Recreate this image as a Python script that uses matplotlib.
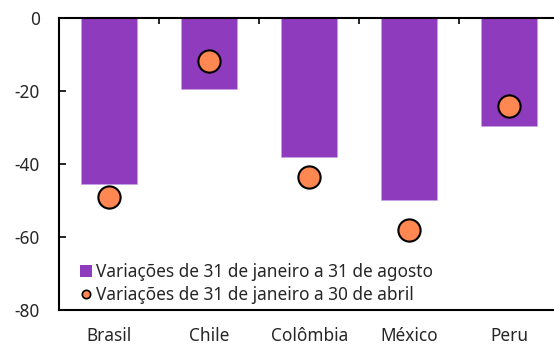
import matplotlib
matplotlib.use("Agg")
import matplotlib.pyplot as plt
from matplotlib.lines import Line2D
from matplotlib.ticker import FixedLocator

plt.rcParams['font.family'] = ['Noto Sans', 'DejaVu Sans']

countries = ["Brasil", "Chile", "Colômbia", "México", "Peru"]
jan_to_aug = [-45.4, -19.4, -38.2, -49.8, -29.7]
jan_to_apr = [-49.2, -11.8, -43.7, -58.0, -24.3]
y_ticks = [0, -20, -40, -60, -80]

bar_label = "Variações de 31 de janeiro a 31 de agosto"
dot_label = "Variações de 31 de janeiro a 30 de abril"

purple = "#8E3BBE"
orange = "#FF8752"
text_color = "#262626"
fs = 12.4

W, H = 554, 347
fig = plt.figure(figsize=(W / 100, H / 100), dpi=100)
left, right, top, bottom = 59.3, 559, 17.7, 310
ax = fig.add_axes([left / W, 1 - bottom / H, (right - left) / W, (bottom - top) / H])

x = list(range(len(countries)))
ax.bar(x, jan_to_aug, width=0.56, color=purple, edgecolor="#C7A3E0", linewidth=0.5, zorder=2)
ax.plot(x, jan_to_apr, linestyle="none", marker="o", markersize=16,
        markerfacecolor=orange, markeredgecolor="black", markeredgewidth=1.5, zorder=3)

ax.set_xlim(-0.5, len(countries) - 0.5)
ax.set_ylim(-80, 0)
ax.set_yticks(y_ticks)
ax.set_yticklabels([str(v) for v in y_ticks])
ax.set_xticks(x)
ax.set_xticklabels(countries)

ax.xaxis.set_minor_locator(FixedLocator([i + 0.5 for i in range(len(countries) - 1)]))
ax.tick_params(axis='x', which='major', length=0, pad=12, labelsize=fs, labelcolor=text_color)
ax.tick_params(axis='x', which='minor', bottom=False, top=True, direction='in', length=4, width=1.2, color='black')
ax.tick_params(axis='y', which='major', direction='in', length=5, width=1.2, pad=14,
               labelsize=fs, color='black', labelcolor=text_color)

for side in ["left", "top", "bottom", "right"]:
    ax.spines[side].set_linewidth(1.5)
    ax.spines[side].set_color("black")

handles = [
    Line2D([], [], linestyle="none", marker="s", markersize=8.5, markerfacecolor=purple, markeredgewidth=0),
    Line2D([], [], linestyle="none", marker="o", markersize=6, markerfacecolor=orange,
           markeredgecolor="black", markeredgewidth=1.2),
]
ax.legend(handles, [bar_label, dot_label], loc="upper left",
          bbox_to_anchor=(0.028, 0.185), frameon=False, fontsize=fs,
          handlelength=0.7, handletextpad=0.2, labelspacing=0.33, borderaxespad=0,
          labelcolor=text_color)

fig.savefig("out.png", dpi=100)
